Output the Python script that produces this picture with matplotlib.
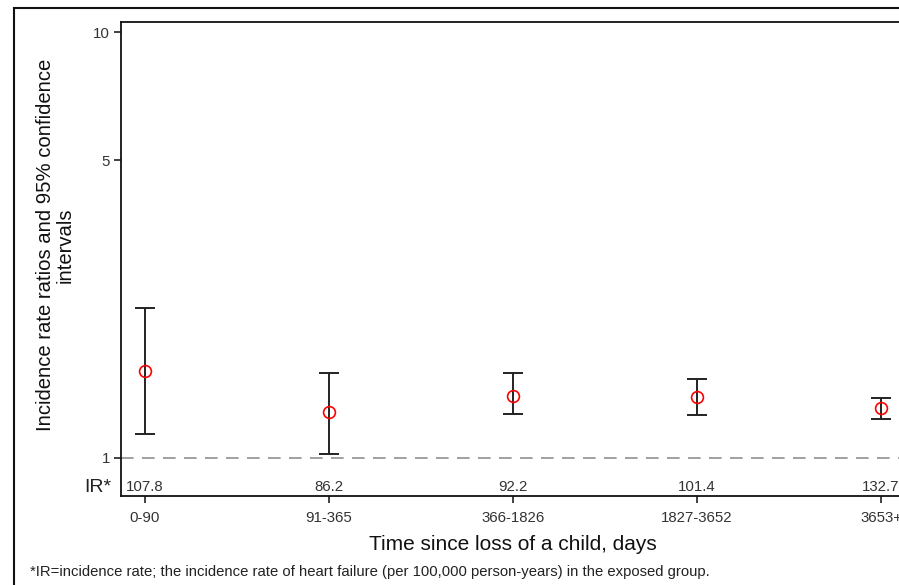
import matplotlib
matplotlib.use('Agg')
import matplotlib.pyplot as plt
from matplotlib.patches import Rectangle
import numpy as np

plt.rcParams['font.family'] = ['Liberation Sans', 'DejaVu Sans']

# data
periods = ['0-90', '91-365', '366-1826', '1827-3652', '3653+']
irr = [1.60, 1.28, 1.40, 1.39, 1.31]
ci_low = [1.14, 1.02, 1.27, 1.26, 1.23]
ci_high = [2.25, 1.58, 1.58, 1.53, 1.38]
ir_values = ['107.8', '86.2', '92.2', '101.4', '132.7']

W, H = 899, 585
fig = plt.figure(figsize=(W / 100, H / 100), dpi=100)

# axes runs off the right edge like the cropped original
ax = fig.add_axes([121 / W, 1 - 496 / H, 784 / W, 474 / H])

x = np.arange(len(periods))
irr = np.array(irr)
yerr = np.array([irr - np.array(ci_low), np.array(ci_high) - irr])

ax.axhline(1, color='#a0a0a0', lw=1.4, dashes=(6.5, 4.3), zorder=1)
ax.errorbar(x, irr, yerr=yerr, fmt='none', ecolor='#222222', elinewidth=1.4,
            capsize=7.5, capthick=1.4, zorder=2)
ax.plot(x, irr, 'o', mfc='none', mec='red', ms=8.5, mew=1.2, zorder=3)

ax.set_yscale('log')
ax.set_ylim(0.813, 10.56)
ax.set_xlim(-0.13, 4.13)
ax.set_yticks([1, 5, 10])
ax.set_yticklabels(['1', '5', '10'])
ax.yaxis.set_minor_locator(matplotlib.ticker.NullLocator())
ax.set_xticks(x)
ax.set_xticklabels(periods)

ax.tick_params(axis='both', direction='out', length=5, width=1.2,
               colors='#222222', labelsize=10.8, labelcolor='#333333')
ax.tick_params(axis='x', pad=6)
ax.tick_params(axis='y', pad=3)
for pos in ['left', 'right', 'top', 'bottom']:
    ax.spines[pos].set_color('#111111')
    ax.spines[pos].set_linewidth(1.3)

# incidence rates written just above the x axis
trans = matplotlib.transforms.blended_transform_factory(ax.transData, ax.transAxes)
for xi, txt in zip(x, ir_values):
    ax.text(xi, 0.019, txt, transform=trans, ha='center', va='center',
            fontsize=10.8, color='#333333')
fig.text(111 / W, 1 - 487 / H, 'IR*', ha='right', va='center',
         fontsize=14, color='#222222')

fig.text(55 / W, 1 - 245 / H,
         'Incidence rate ratios and 95% confidence\nintervals',
         rotation=90, ha='center', va='center', fontsize=14.6,
         color='#111111', linespacing=1.05)
fig.text(513 / W, 1 - 545 / H, 'Time since loss of a child, days',
         ha='center', va='center', fontsize=15, color='#111111')
fig.text(30 / W, 1 - 572 / H,
         '*IR=incidence rate; the incidence rate of heart failure '
         '(per 100,000 person-years) in the exposed group.',
         ha='left', va='center', fontsize=10.7, color='#222222')

# outer frame around the whole graphic
frame = Rectangle((14 / W, -0.1), 1.2, 1 - 8 / H + 0.1, transform=fig.transFigure,
                  fill=False, edgecolor='#111111', lw=1.5, clip_on=False)
fig.patches.append(frame)

fig.savefig('out.png', dpi=100)
plt.close(fig)
